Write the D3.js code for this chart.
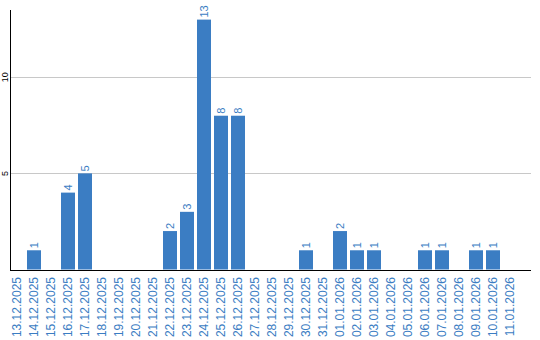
<!DOCTYPE html>
<head>
  <meta charset="utf-8" />
  <script src="https://d3js.org/d3.v7.min.js"></script>
  <style>
    body { margin: 0; background: #fff; }
    text { font-family: "Liberation Sans", Arial, sans-serif; }
  </style>
</head>
<body>
  <script>
    var width = 540,
      height = 340;

    var dates = ["13.12.2025", "14.12.2025", "15.12.2025", "16.12.2025", "17.12.2025",
      "18.12.2025", "19.12.2025", "20.12.2025", "21.12.2025", "22.12.2025",
      "23.12.2025", "24.12.2025", "25.12.2025", "26.12.2025", "27.12.2025",
      "28.12.2025", "29.12.2025", "30.12.2025", "31.12.2025", "01.01.2026",
      "02.01.2026", "03.01.2026", "04.01.2026", "05.01.2026", "06.01.2026",
      "07.01.2026", "08.01.2026", "09.01.2026", "10.01.2026", "11.01.2026"];
    var counts = [0, 1, 0, 4, 5, 0, 0, 0, 0, 2, 3, 13, 8, 8, 0,
      0, 0, 1, 0, 2, 1, 1, 0, 0, 1, 1, 0, 1, 1, 0];
    var yTicks = [5, 10];

    var blue = "#3b7dc3";

    var svg = d3.select("body").append("svg")
      .attr("width", width)
      .attr("height", height);

    var x = d3.scaleBand()
      .domain(dates)
      .range([10, 517])
      .paddingInner(3 / 17)
      .paddingOuter(0)
      .align(0);

    var y = d3.scaleLinear()
      .domain([0, 13.5])
      .range([269.5, 10]);

    // grid
    svg.selectAll(".grid")
      .data(yTicks)
      .join("line")
      .attr("x1", 11).attr("x2", 531)
      .attr("y1", d => Math.round(y(d)) + 0.5)
      .attr("y2", d => Math.round(y(d)) + 0.5)
      .attr("stroke", "#c8c8c8");

    var data = dates.map((d, i) => ({ date: d, value: counts[i] }));

    svg.selectAll(".bar")
      .data(data.filter(d => d.value > 0))
      .join("rect")
      .attr("x", d => x(d.date))
      .attr("width", x.bandwidth())
      .attr("y", d => y(d.value))
      .attr("height", d => y(0) - y(d.value))
      .attr("fill", blue);

    // value labels
    svg.selectAll(".val")
      .data(data.filter(d => d.value > 0))
      .join("text")
      .attr("transform", d => "translate(" + (x(d.date) + x.bandwidth() / 2) + "," + (y(d.value) - 2) + ") rotate(-90)")
      .attr("dy", "0.35em")
      .attr("font-size", "11px")
      .attr("fill", blue)
      .text(d => d.value);

    // axes lines
    svg.append("line")
      .attr("x1", 10.5).attr("x2", 10.5)
      .attr("y1", 10).attr("y2", 270)
      .attr("stroke", "#000");
    svg.append("line")
      .attr("x1", 10).attr("x2", 531)
      .attr("y1", 270.5).attr("y2", 270.5)
      .attr("stroke", "#000");

    // y tick labels
    svg.selectAll(".ylab")
      .data(yTicks)
      .join("text")
      .attr("transform", d => "translate(4.5," + y(d) + ") rotate(-90)")
      .attr("text-anchor", "middle")
      .attr("dy", "0.35em")
      .attr("font-size", "9px")
      .attr("fill", "#000")
      .text(d => d);

    // x labels
    svg.selectAll(".xlab")
      .data(dates)
      .join("text")
      .attr("transform", d => "translate(" + (x(d) + x.bandwidth() / 2) + ",277) rotate(-90)")
      .attr("text-anchor", "end")
      .attr("dy", "0.35em")
      .attr("font-size", "12px")
      .attr("fill", blue)
      .text(d => d);
  </script>
</body>
